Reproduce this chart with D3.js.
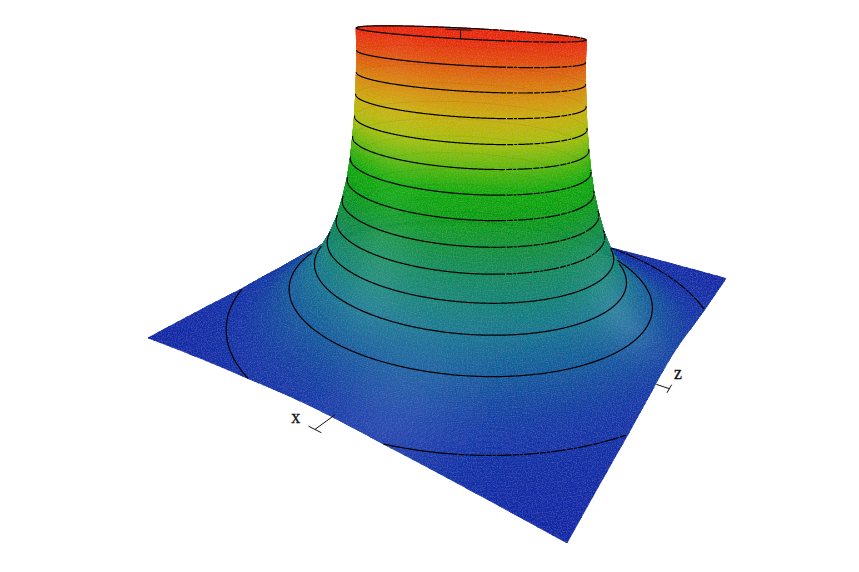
<!DOCTYPE html>
<html><head><meta charset="utf-8">
<script src="https://cdn.jsdelivr.net/npm/d3@7"></script>
<style>html,body{margin:0;padding:0;background:#fff}svg{display:block}text{font-family:"Liberation Serif",serif;font-size:18px;fill:#111;stroke:#111;stroke-width:.3}</style>
</head><body><svg id="c" width="859" height="572"></svg>
<script>
// ---- data ----
const contourHeights = [0.024,0.105,0.179,0.254,0.329,0.403,0.478,0.552,0.627,0.70,0.776,0.851,0.925,1.0];
const contourRadii   = [1.10,0.83,0.715,0.655,0.612,0.582,0.557,0.54,0.527,0.516,0.508,0.502,0.498,0.497];
const skirtRadii = [1.42,1.10,1.0,0.92];
const skirtHeights = [0,0.024,0.04,0.066];
const rimHeight = 1;
const colourHeights = [0,0.03,0.105,0.179,0.254,0.329,0.403,0.478,0.552,0.627,0.70,0.776,0.851,0.925,1.0];
const colourValues = ["#0926a6","#0c34a8","#0e5a9e","#127692","#108478","#0d8a5e","#08923c","#02a014","#0cab02","#5cb800","#a8c000","#cab000","#d88a00","#e05800","#e82c00"];
const highlightX = [-0.02,0.80,0.3], highlightZ = [-0.6,-0.06,-0.9];
const highlightSpread = [0.15,0.15,0.25], highlightGain = [0.08,0.11,0.1];
const axisLabels = ["x","z"];

// ---- camera: plane corners on the page, top of axis, vertical vanishing point ----
const view = {L:[148,338],F:[567,543],R:[726,278.5],B:[431,211],top:[471,33],van:[455,3400]};
const stretchX=1.05, stretchZ=0.95, lean=-0.018, leanOnset=0.15;
function camera(v){
  const [x0,y0]=v.L,[x1,y1]=v.F,[x2,y2]=v.R,[x3,y3]=v.B;
  const dx1=x1-x2,dx2=x3-x2,sx=x0-x1+x2-x3,dy1=y1-y2,dy2=y3-y2,sy=y0-y1+y2-y3;
  const det=dx1*dy2-dx2*dy1;
  const g=(sx*dy2-dx2*sy)/det,h=(dx1*sy-sx*dy1)/det;
  const a=x1-x0+g*x1,b=x3-x0+h*x3,c=x0,d=y1-y0+g*y1,e=y3-y0+h*y3,f=y0;
  const w0=1+.5*g+.5*h, cy=(.5*d+.5*e+f)/w0;
  const k=w0*(v.top[1]-cy)/(v.van[1]-v.top[1]);
  return {row:[[a,b,k*v.van[0],c],[d,e,k*v.van[1],f],[g,h,k,1]]};
}
const M=camera(view).row;
const toS=d3.scaleLinear().domain([-1,1]).range([0,1]);
const lift=(X,Y,Z)=>Y+lean*(X+Z)*Math.min(1,Math.max(0,Y)/leanOnset);
function hom(X,Y,Z){const s=toS(X),t=toS(Z),V=lift(X,Y,Z);return M.map(r=>r[0]*s+r[1]*t+r[2]*V+r[3]);}
function project(X,Y,Z){const p=hom(X,Y,Z);return [p[0]/p[2],p[1]/p[2]];}
function eyeWorld(){
  const m=M, D=(A)=>A[0][0]*(A[1][1]*A[2][2]-A[1][2]*A[2][1])-A[0][1]*(A[1][0]*A[2][2]-A[1][2]*A[2][0])+A[0][2]*(A[1][0]*A[2][1]-A[1][1]*A[2][0]);
  const A=m.map(r=>[r[0],r[1],r[2]]),b=m.map(r=>-r[3]),d=D(A);
  const sol=[0,1,2].map(i=>D(A.map((r,j)=>r.map((v,q)=>q===i?b[j]:v)))/d);
  return {X:sol[0]*2-1,Z:sol[1]*2-1,V:sol[2]};
}
const eye=eyeWorld();

const profR=[...skirtRadii,...contourRadii.slice(1)], profY=[...skirtHeights,...contourHeights.slice(1)];
const heightOf=d3.scaleLinear().domain(profR).range(profY).clamp(true);
const colour=d3.scaleLinear().domain(colourHeights).range(colourValues).interpolate(d3.interpolateRgb).clamp(true);
const rim=d3.min(contourRadii);
const rho=(X,Z)=>Math.hypot(X/stretchX,Z/stretchZ);

function shade(X,Y,Z){
  let amt=0;
  highlightX.forEach((hx,i)=>{
    const d2=(X-hx)**2+(Z-highlightZ[i])**2;
    amt+=highlightGain[i]*Math.exp(-d2/(highlightSpread[i]**2));
  });
  return d3.interpolateRgb(colour(Y),"#ffffff")(Math.min(amt,.6));
}

const stations=[];
const asc=profR.slice().reverse();
for(let i=0;i<asc.length-1;i++){
  const n=i<asc.length-5?7:(i<asc.length-3?14:22);
  for(let j=0;j<n;j++) stations.push(asc[i]+(asc[i+1]-asc[i])*j/n);
}
stations.push(skirtRadii[0]);
const N=256;
const cornerT=Math.atan2(1/stretchZ,1/stretchX);
const thetas=d3.range(N+1).map(i=>i/N*2*Math.PI)
  .concat([cornerT,Math.PI-cornerT,Math.PI+cornerT,2*Math.PI-cornerT]).sort(d3.ascending);
const edgeR=t=>1/Math.max(Math.abs(Math.cos(t))*stretchX,Math.abs(Math.sin(t))*stretchZ);
const cells=[];
for(let i=0;i<thetas.length-1;i++){
  const t0=thetas[i],t1=thetas[i+1],e0=edgeR(t0),e1=edgeR(t1);
  const c0=Math.cos(t0),s0=Math.sin(t0),c1=Math.cos(t1),s1=Math.sin(t1);
  for(let j=0;j<stations.length-1;j++){
    const a0=Math.min(stations[j],e0),a1=Math.min(stations[j],e1),b0=Math.min(stations[j+1],e0),b1=Math.min(stations[j+1],e1);
    if(a0===b0&&a1===b1) continue;
    const pts=[[a0,c0,s0],[b0,c0,s0],[b1,c1,s1],[a1,c1,s1]].map(([r,c,s])=>({X:r*c*stretchX,Z:r*s*stretchZ,Y:heightOf(r)}));
    const mX=d3.mean(pts,p=>p.X),mZ=d3.mean(pts,p=>p.Z),mY=d3.mean(pts,p=>p.Y);
    cells.push({pts,w:hom(mX,mY,mZ)[2],fill:shade(mX,mY,mZ)});
  }
}
const capPts=thetas.map(t=>({X:rim*Math.cos(t)*stretchX,Z:rim*Math.sin(t)*stretchZ,Y:rimHeight}));
cells.push({pts:capPts,w:hom(0,rimHeight,0)[2],fill:colourValues[colourValues.length-1]});
cells.sort((p,q)=>q.w-p.w);

const svg=d3.select("#c");
const defs=svg.append("defs");
const flt=defs.append("filter").attr("id","grain").attr("x",0).attr("y",0).attr("width",1).attr("height",1);
flt.append("feTurbulence").attr("type","fractalNoise").attr("baseFrequency",.8).attr("numOctaves",2).attr("seed",4).attr("result","n");
flt.append("feColorMatrix").attr("in","n").attr("type","matrix").attr("values","0 0 0 0 1  0 0 0 0 1  0 0 0 0 1  0 0 0 .12 -.05").attr("result","g");
flt.append("feComposite").attr("in","g").attr("in2","SourceAlpha").attr("operator","in").attr("result","gc");
const mrg=flt.append("feMerge");mrg.append("feMergeNode").attr("in","SourceGraphic");mrg.append("feMergeNode").attr("in","gc");

const line=d3.line().x(d=>d[0]).y(d=>d[1]);
const surf=svg.append("g").attr("filter","url(#grain)");
surf.selectAll("path").data(cells).join("path")
  .attr("d",d=>line(d.pts.map(p=>project(p.X,p.Y,p.Z)))+"Z")
  .attr("fill",d=>d.fill).attr("stroke",d=>d.fill).attr("stroke-width",.7).attr("stroke-linejoin","round");

function hidden(P){
  const V0=lift(P.X,P.Y,P.Z);
  const tMax=eye.V>1.1?(1.1-V0)/(eye.V-V0):.9;
  for(let i=1;i<=70;i++){
    const t=tMax*i/70,X=P.X+(eye.X-P.X)*t,Z=P.Z+(eye.Z-P.Z)*t,V=V0+(eye.V-V0)*t;
    if(Math.abs(X)>1||Math.abs(Z)>1) continue;
    const r=rho(X,Z);
    if(r<rim){ if(V<lift(X,rimHeight,Z)-1e-3) return true; continue; }
    if(V<lift(X,heightOf(r),Z)-2e-3) return true;
  }
  return false;
}
const runs=[];
contourHeights.forEach((Y,k)=>{
  const r=contourRadii[k],M2=720;let cur=null;
  for(let i=0;i<=M2;i++){
    const t=i/M2*2*Math.PI,X=r*Math.cos(t)*stretchX,Z=r*Math.sin(t)*stretchZ;
    if(Math.abs(X)>1||Math.abs(Z)>1){cur=null;continue;}
    const p=project(X,Y,Z),hid=hidden({X,Y,Z}),dash=!hid&&p[0]>(k===0?440:490)&&(k>=4||k===0);
    const key=hid?"h":dash?"d":"s";
    if(!cur||cur.key!==key){ if(cur) cur.pts.push(p); cur={key,pts:[p],k};runs.push(cur);} else cur.pts.push(p);
  }
});
const contours=svg.append("g").attr("fill","none");
contours.selectAll("path").data(runs).join("path")
  .attr("d",d=>line(d.pts))
  .attr("stroke",d=>d.key==="h"?"rgba(0,0,0,.07)":"#000")
  .attr("stroke-width",d=>d.key==="h"?0.8:1.2)
  .attr("stroke-dasharray",d=>d.key==="d"?"15 1.2 6 1 3 1":null);

const ax=svg.append("g").attr("stroke","#111").attr("stroke-width",1).attr("fill","none");
function tick(a,b,bar0,bar1){ax.append("path").attr("d",line([project(...a),project(...b)]));ax.append("path").attr("d",line([project(...bar0),project(...bar1)]));}
const xt=0.12, zt=-0.22, eh=0.04;
tick([xt,eh,-1],[xt,eh,-1.09],[xt-.03,eh,-1.09],[xt+.03,eh,-1.09]);
tick([1,eh,zt],[1.05,eh,zt],[1.05,eh,zt-.03],[1.05,eh,zt+.03]);
const yx=.23,yz=-.41;
tick([yx,rimHeight,yz],[yx,rimHeight+.025,yz],[yx-.04,rimHeight+.025,yz-.04],[yx+.03,rimHeight+.025,yz+.03]);
const lx=project(xt-.08,eh,-1.10), lz=project(1.06,eh,zt+.08);
svg.append("text").attr("x",lx[0]).attr("y",lx[1]).text(axisLabels[0]).attr("text-anchor","middle");
svg.append("text").attr("x",lz[0]).attr("y",lz[1]).text(axisLabels[1]).attr("text-anchor","middle");
</script></body></html>
